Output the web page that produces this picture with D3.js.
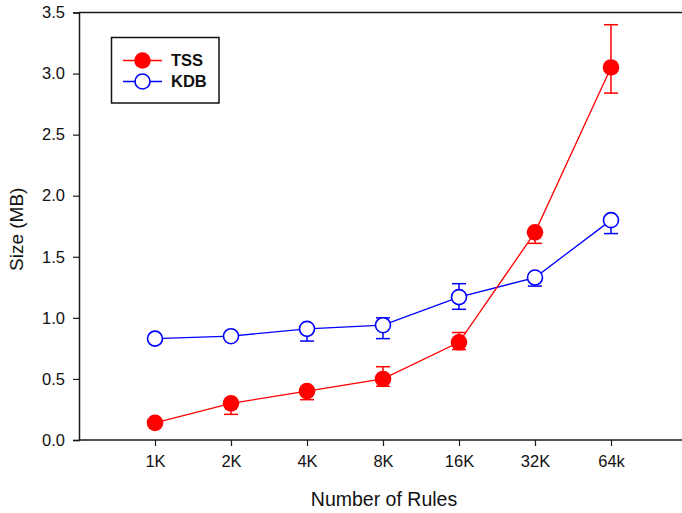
<!DOCTYPE html>
<html>
<head>
<meta charset="utf-8">
<script src="https://cdn.jsdelivr.net/npm/d3@7"></script>
<style>
  html, body { margin: 0; padding: 0; background: #fff; }
  svg { display: block; font-family: "Liberation Sans", Arial, sans-serif; }
</style>
</head>
<body>
<svg id="chart" width="682" height="513"></svg>
<script>
// Rule-set sizes on the x axis
const categories = ["1K", "2K", "4K", "8K", "16K", "32K", "64k"];

// Memory footprint (MB) with error-bar bounds
const tssValues = [0.14, 0.30, 0.40, 0.50, 0.80, 1.70, 3.05];
const tssLower  = [0.14, 0.21, 0.33, 0.44, 0.74, 1.61, 2.84];
const tssUpper  = [0.14, 0.30, 0.40, 0.60, 0.88, 1.70, 3.40];

const kdbValues = [0.83, 0.85, 0.91, 0.94, 1.17, 1.33, 1.80];
const kdbLower  = [0.83, 0.85, 0.81, 0.83, 1.07, 1.26, 1.69];
const kdbUpper  = [0.83, 0.85, 0.91, 1.00, 1.28, 1.33, 1.80];

const yTicks = [0, 0.5, 1.0, 1.5, 2.0, 2.5, 3.0, 3.5];

const svg = d3.select("#chart");

const plotLeft = 79, plotRight = 687, plotTop = 12.5, plotBottom = 440;

const x = d3.scalePoint().domain(categories).range([plotLeft, plotRight]).padding(1);
const y = d3.scaleLinear().domain([0, 3.5]).range([plotBottom, plotTop]);

const axisColor = "#1a1a1a";

// Frame: top edge (right edge falls outside the view)
svg.append("line")
  .attr("x1", plotLeft).attr("x2", plotRight)
  .attr("y1", plotTop).attr("y2", plotTop)
  .attr("stroke", axisColor).attr("stroke-width", 1.5);

// Y axis
const yAxis = svg.append("g")
  .attr("transform", `translate(${plotLeft},0)`)
  .call(d3.axisLeft(y).tickValues(yTicks).tickFormat(d3.format(".1f")).tickSize(6).tickPadding(8));
yAxis.select(".domain").attr("stroke", axisColor).attr("stroke-width", 1.5);
yAxis.selectAll(".tick line").attr("stroke", axisColor).attr("stroke-width", 1.2);
yAxis.selectAll(".tick text").attr("font-size", 16.5).attr("fill", "#111")
  .attr("font-family", "Liberation Sans, Arial, sans-serif");

// X axis
const xAxis = svg.append("g")
  .attr("transform", `translate(0,${plotBottom})`)
  .call(d3.axisBottom(x).tickSize(6).tickPadding(9).tickSizeOuter(0));
xAxis.select(".domain").attr("stroke", axisColor).attr("stroke-width", 1.5)
  .attr("d", `M${plotLeft},0H${plotRight}`);
xAxis.selectAll(".tick line").attr("stroke", axisColor).attr("stroke-width", 1.2);
xAxis.selectAll(".tick text").attr("font-size", 16.5).attr("fill", "#111")
  .attr("font-family", "Liberation Sans, Arial, sans-serif");

// Axis titles
svg.append("text")
  .attr("x", 384).attr("y", 506)
  .attr("text-anchor", "middle")
  .attr("font-size", 19.5).attr("fill", "#111")
  .text("Number of Rules");

svg.append("text")
  .attr("transform", `translate(23,${(plotTop + plotBottom) / 2 + 3}) rotate(-90)`)
  .attr("text-anchor", "middle")
  .attr("font-size", 19).attr("fill", "#111")
  .text("Size (MB)");

// Series drawing
function drawSeries(values, lower, upper, color, filled, r) {
  const g = svg.append("g");
  const pts = categories.map((c, i) => ({ c, v: values[i], lo: lower[i], hi: upper[i] }));

  g.append("path")
    .datum(pts)
    .attr("fill", "none")
    .attr("stroke", color)
    .attr("stroke-width", 1.3)
    .attr("d", d3.line().x(d => x(d.c)).y(d => y(d.v)));

  const cap = 7;
  const eb = g.selectAll(".eb").data(pts).enter().append("g")
    .attr("stroke", color).attr("stroke-width", 1.5);
  eb.append("line")
    .attr("x1", d => x(d.c)).attr("x2", d => x(d.c))
    .attr("y1", d => y(d.lo)).attr("y2", d => y(d.hi));
  eb.filter(d => d.lo < d.v).append("line")
    .attr("x1", d => x(d.c) - cap).attr("x2", d => x(d.c) + cap)
    .attr("y1", d => y(d.lo)).attr("y2", d => y(d.lo));
  eb.filter(d => d.hi > d.v).append("line")
    .attr("x1", d => x(d.c) - cap).attr("x2", d => x(d.c) + cap)
    .attr("y1", d => y(d.hi)).attr("y2", d => y(d.hi));

  g.selectAll(".pt").data(pts).enter().append("circle")
    .attr("cx", d => x(d.c)).attr("cy", d => y(d.v))
    .attr("r", r)
    .attr("fill", filled ? color : "#fff")
    .attr("stroke", color)
    .attr("stroke-width", filled ? 0 : 1.6);
}

drawSeries(kdbValues, kdbLower, kdbUpper, "#0000ff", false, 7.5);
drawSeries(tssValues, tssLower, tssUpper, "#ff0000", true, 8.3);

// Legend
const legend = svg.append("g");
legend.append("rect")
  .attr("x", 111.5).attr("y", 37.5).attr("width", 107.5).attr("height", 65.5)
  .attr("fill", "#fff").attr("stroke", "#111").attr("stroke-width", 1.5);

const legendItems = [
  { name: "TSS", color: "#ff0000", filled: true, r: 8.3, y: 60.5 },
  { name: "KDB", color: "#0000ff", filled: false, r: 7.5, y: 81.5 }
];
legendItems.forEach(it => {
  legend.append("line")
    .attr("x1", 123).attr("x2", 162).attr("y1", it.y).attr("y2", it.y)
    .attr("stroke", it.color).attr("stroke-width", 1.3);
  legend.append("circle")
    .attr("cx", 142.5).attr("cy", it.y).attr("r", it.r)
    .attr("fill", it.filled ? it.color : "#fff")
    .attr("stroke", it.color).attr("stroke-width", it.filled ? 0 : 1.6);
  legend.append("text")
    .attr("x", 171).attr("y", it.y).attr("dy", "0.36em")
    .attr("font-size", 16.5).attr("font-weight", "bold").attr("fill", "#111")
    .text(it.name);
});
</script>
</body>
</html>
